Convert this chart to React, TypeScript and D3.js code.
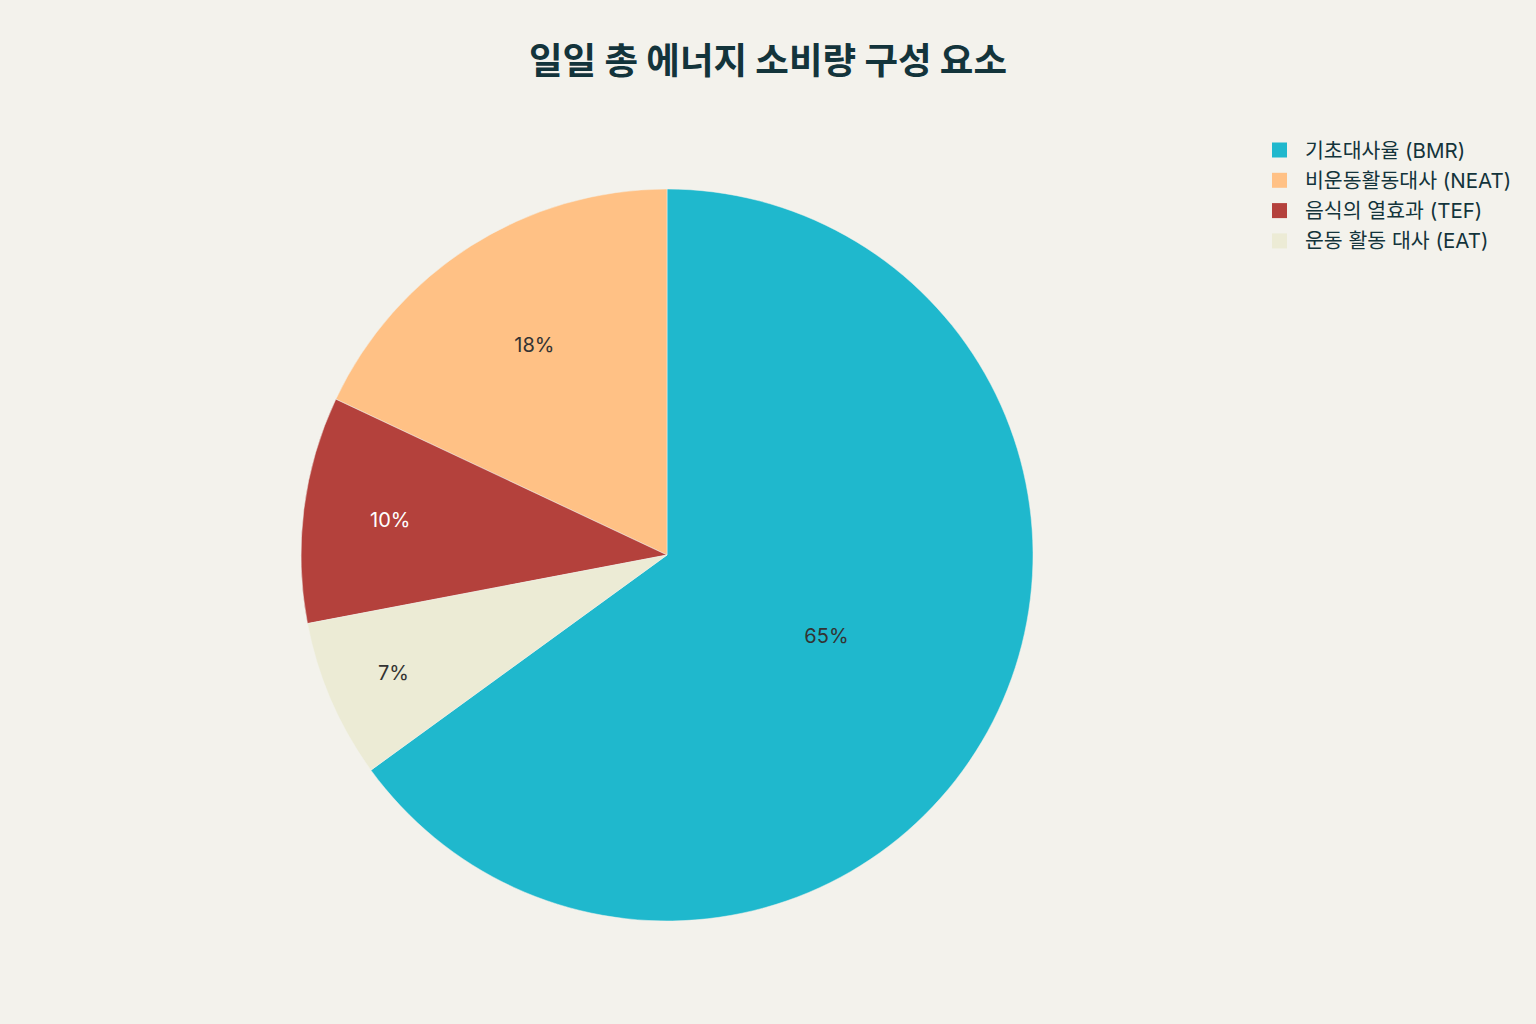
import * as React from 'react'
import * as d3 from 'd3'

const categories = ['기초대사율 (BMR)', '비운동활동대사 (NEAT)', '음식의 열효과 (TEF)', '운동 활동 대사 (EAT)']
const values = [65, 18, 10, 7]
const colors = ['#1FB8CD', '#FFC185', '#B4413C', '#ECEBD5']
const labelColors = ['#333333', '#333333', '#ffffff', '#333333']
const title = '일일 총 에너지 소비량 구성 요소'

export default function App() {
    const WIDTH = 1536
    const HEIGHT = 1024
    const CX = 667
    const CY = 555
    const R = 366
    const FONT = "Inter, 'Noto Sans CJK KR', sans-serif"
    const KFONT = "'Noto Sans CJK KR', sans-serif"

    const total = d3.sum(values)
    const start = (values[0] / total) * 2 * Math.PI

    const pie = d3.pie<number>()
        .sort(null)
        .value(d => d)
        .startAngle(start)
        .endAngle(start - 2 * Math.PI)
    const arcs = pie(values)

    const arc = d3.arc<d3.PieArcDatum<number>>()
        .innerRadius(0)
        .outerRadius(R)

    // labels sit further out in thin slices
    const labelPos = (a: d3.PieArcDatum<number>) => {
        const p = a.value / total
        const rr = R * (0.426 - 0.146 * Math.log(p))
        const mid = (a.startAngle + a.endAngle) / 2
        return [Math.sin(mid) * rr, -Math.cos(mid) * rr]
    }

    return <svg width={WIDTH} height={HEIGHT} style={{ position: 'absolute', left: 0, top: 0, background: '#F3F2EC' }}>
        <rect width={WIDTH} height={HEIGHT} fill="#F3F2EC" />
        <text x={768} y={64} textAnchor="middle" dominantBaseline="middle"
            fontFamily={KFONT} fontWeight={700} fontSize={36.5} fill="#13343B">{title}</text>

        <g transform={`translate(${CX} ${CY})`}>
            {arcs.map((a, i) =>
                <path key={i} d={arc(a) as string} fill={colors[i]} stroke="#F3F2EC" strokeWidth={0.5} />
            )}
            {arcs.map((a, i) => {
                const [x, y] = labelPos(a)
                return <text key={i} x={x} y={y + 1} textAnchor="middle" dominantBaseline="middle"
                    fontFamily={FONT} fontSize={20} fill={labelColors[i]}>{values[i]}%</text>
            })}
        </g>

        <g transform="translate(1272 150)">
            {categories.map((c, i) =>
                <g key={i} transform={`translate(0 ${i * 30.3})`}>
                    <rect x={0} y={-7.5} width={15} height={15} fill={colors[i]} />
                    <text x={33} y={2} dominantBaseline="middle" fontFamily={FONT} fontSize={20.5} fill="#13343B">{c}</text>
                </g>
            )}
        </g>
    </svg>
}
